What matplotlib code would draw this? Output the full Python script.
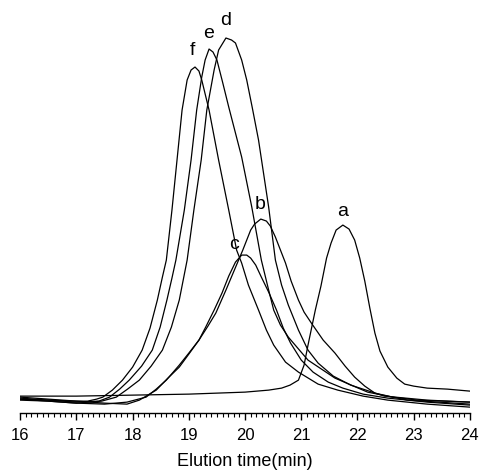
import numpy as np
import matplotlib.pyplot as plt

plt.rcParams['font.family'] = ['Liberation Sans', 'DejaVu Sans']

# Elution traces (time in min, detector signal in arb. units)
a_t = [16.0, 17.0, 18.0, 19.0, 19.5, 20.0, 20.42, 20.65, 20.8, 20.95, 21.05, 21.12,
       21.25, 21.35, 21.45, 21.53, 21.62, 21.74, 21.85, 21.95, 22.04, 22.13, 22.22,
       22.31, 22.4, 22.54, 22.7, 22.84, 23.0, 23.24, 23.6, 24.0]
a_s = [17, 17, 18, 19, 20, 21, 23, 25, 28, 33, 48, 68,
       103, 127, 155, 170, 183, 188, 184, 173, 155, 132, 105,
       80, 62, 46, 35, 29, 27, 25, 24, 22]

b_t = [16.0, 16.5, 17.0, 17.5, 17.9, 18.12, 18.3, 18.42, 18.61, 18.83, 19.0, 19.18,
       19.34, 19.48, 19.66, 19.78, 19.87, 19.96, 20.03, 20.1, 20.17, 20.28, 20.38,
       20.45, 20.54, 20.63, 20.72, 20.82, 20.95, 21.05, 21.18, 21.39, 21.6, 21.78,
       21.95, 22.13, 22.31, 22.63, 23.07, 24.0]
b_s = [16, 14, 12, 10, 9, 13, 19, 23, 34, 46, 59, 73,
       87, 100, 123, 139, 151, 163, 173, 183, 189, 194, 192,
       187, 176, 163, 150, 132, 113, 101, 90, 73, 60, 47,
       36, 27, 20, 16, 13, 11]

c_t = [16.0, 16.5, 17.0, 17.5, 17.9, 18.24, 18.42, 18.6, 18.83, 19.0, 19.18, 19.3,
       19.45, 19.59, 19.71, 19.83, 19.94, 20.03, 20.1, 20.19, 20.29, 20.42, 20.56,
       20.68, 20.81, 21.0, 21.21, 21.48, 21.74, 22.1, 22.54, 23.24, 24.0]
c_s = [14, 12, 10, 9, 11, 16, 24, 33, 48, 60, 73, 86,
       103, 120, 137, 151, 158, 158, 155, 148, 136, 121, 103,
       85, 70, 53, 41, 31, 25, 19, 15, 11, 8]

d_t = [16.0, 16.5, 17.0, 17.45, 17.71, 17.91, 18.12, 18.33, 18.53, 18.69, 18.83,
       18.9, 18.97, 19.09, 19.22, 19.32, 19.45, 19.53, 19.66, 19.76, 19.83, 19.94,
       20.03, 20.13, 20.24, 20.42, 20.54, 20.65, 20.77, 20.95, 21.12, 21.3, 21.57,
       21.88, 22.48, 23.24, 24.0]
d_s = [13, 12, 10, 12, 16, 24, 33, 47, 63, 86, 113,
       133, 153, 203, 253, 303, 343, 363, 375, 373, 370, 353,
       333, 305, 273, 206, 153, 128, 108, 83, 63, 50, 37,
       28, 17, 13, 11]

e_t = [16.0, 16.5, 17.0, 17.4, 17.59, 17.77, 17.94, 18.16, 18.35, 18.49, 18.61,
       18.7, 18.77, 18.92, 19.04, 19.14, 19.23, 19.29, 19.36, 19.43, 19.5, 19.6,
       19.71, 19.94, 20.12, 20.29, 20.42, 20.51, 20.63, 20.77, 21.12, 21.6, 22.18,
       22.89, 24.0]
e_s = [15, 13, 11, 12, 16, 24, 33, 47, 63, 86, 113,
       135, 153, 203, 253, 303, 336, 353, 364, 361, 353, 331,
       306, 256, 206, 153, 123, 103, 88, 76, 53, 35, 21,
       13, 9]

f_t = [16.0, 16.5, 17.0, 17.2, 17.36, 17.47, 17.64, 17.82, 18.0, 18.17, 18.31,
       18.44, 18.53, 18.6, 18.7, 18.79, 18.88, 18.97, 19.04, 19.11, 19.18, 19.23,
       19.36, 19.53, 19.71, 19.85, 19.94, 20.06, 20.24, 20.38, 20.51, 20.72, 20.95,
       21.3, 21.65, 22.1, 22.54, 23.24, 24.0]
f_s = [14, 13, 12, 12, 14, 16, 23, 33, 46, 63, 85,
       113, 136, 153, 203, 253, 303, 333, 343, 346, 342, 333,
       303, 253, 203, 163, 150, 128, 103, 83, 68, 51, 41,
       29, 23, 17, 13, 9, 6]

# Letter labels and where they sit
names = ['a', 'b', 'c', 'd', 'e', 'f']
name_t = [21.74, 20.26, 19.8, 19.66, 19.36, 19.06]
name_s = [202, 209, 169, 393, 380, 363]

fig = plt.figure(figsize=(4.8, 4.7), dpi=100)
ax = fig.add_axes([0.042, 0.121, 0.937, 0.879])

for t, s in [(a_t, a_s), (b_t, b_s), (c_t, c_s), (d_t, d_s), (e_t, e_s), (f_t, f_s)]:
    ax.plot(t, s, color='black', linewidth=0.9, solid_joinstyle='round')

for n, t, s in zip(names, name_t, name_s):
    ax.text(t, s, n, ha='center', va='center', fontsize=14)

ax.set_xlim(16, 24)
ax.set_ylim(0, 413)

# Only the bottom axis is shown
for side in ['left', 'right', 'top']:
    ax.spines[side].set_visible(False)
ax.spines['bottom'].set_linewidth(1.0)
ax.set_yticks([])
ax.set_xticks(np.arange(16, 25, 1))
ax.set_xticks(np.arange(16, 24.01, 0.1), minor=True)
ax.tick_params(axis='x', which='major', direction='out', length=5, width=1.0, labelsize=12, pad=6)
ax.tick_params(axis='x', which='minor', direction='out', length=3, width=0.8)
ax.set_xlabel('Elution time(min)', fontsize=13, labelpad=7)

plt.savefig('out.png', dpi=100)
plt.close()
